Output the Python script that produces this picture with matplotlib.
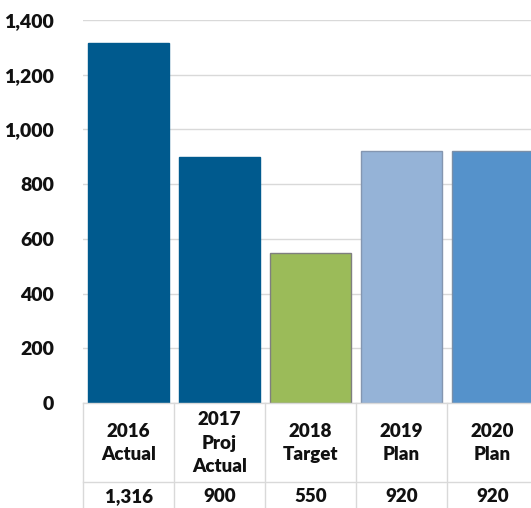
import matplotlib
matplotlib.use("Agg")
import matplotlib.pyplot as plt
from matplotlib.transforms import blended_transform_factory

categories = ["2016\nActual", "2017\nProj\nActual", "2018\nTarget", "2019\nPlan", "2020\nPlan"]
values = [1316, 900, 550, 920, 920]
value_labels = ["1,316", "900", "550", "920", "920"]
yticks = [0, 200, 400, 600, 800, 1000, 1200, 1400]
ytick_labels = ["0", "200", "400", "600", "800", "1,000", "1,200", "1,400"]
colors = ["#005A8E", "#005A8E", "#9BBB59", "#95B3D7", "#5592CB"]
edges = ["#005A8E", "#005A8E", "#7F7F7F", "#8496B0", "#7A8FA8"]

plt.rcParams['font.family'] = ['Lato', 'DejaVu Sans']

W, H = 531, 508
fig = plt.figure(figsize=(W / 100, H / 100), dpi=100)
ax = fig.add_axes([83 / W, 105 / H, 455 / W, 383 / H])

x = list(range(len(values)))
ax.bar(x, values, width=0.88, color=colors, edgecolor=edges, linewidth=1, zorder=3)

ax.set_xlim(-0.5, len(values) - 0.5)
ax.set_ylim(0, 1400)
ax.set_yticks(yticks)
ax.set_yticklabels(ytick_labels, fontsize=14, fontweight='heavy', color='#111111')
ax.tick_params(axis='y', length=0, pad=21)
ax.set_xticks([])
ax.grid(axis='y', color='#D9D9D9', linewidth=1, zorder=0)
for s in ax.spines.values():
    s.set_visible(False)

# Table beneath the axes
px = 1.0 / 383  # one pixel in axes-y units
tr = blended_transform_factory(ax.transData, ax.transAxes)
ax.plot([-0.5, len(values) - 0.5], [0, 0], transform=tr, color='#D9D9D9', lw=1, clip_on=False, zorder=4)
ax.plot([-0.5, len(values) - 0.5], [-79 * px, -79 * px], transform=tr, color='#D9D9D9', lw=1, clip_on=False)
for b in range(len(values) + 1):
    xb = b - 0.5
    ax.plot([xb, xb], [0, -110 * px], transform=tr, color='#D9D9D9', lw=1, clip_on=False)

for i, (c, v) in enumerate(zip(categories, values)):
    ax.text(i, -40 * px, c, transform=tr, ha='center', va='center', fontsize=13.5,
            fontweight='heavy', color='#111111', linespacing=1.45)
    ax.text(i, -94 * px, value_labels[i], transform=tr, ha='center', va='center', fontsize=13.5,
            fontweight='heavy', color='#111111')

fig.savefig("out.png", dpi=100)
